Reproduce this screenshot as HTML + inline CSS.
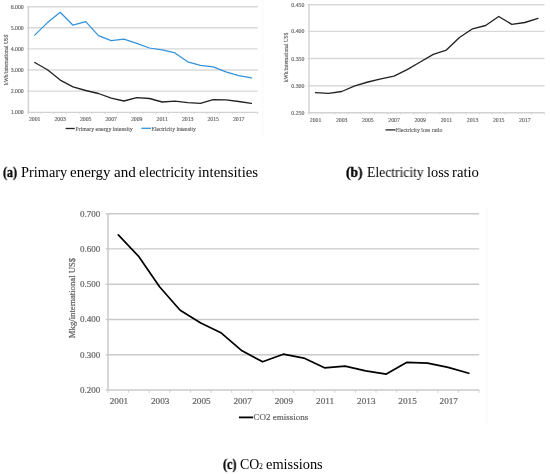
<!DOCTYPE html>
<html><head><meta charset="utf-8"><style>
html,body{margin:0;padding:0;background:#fff;}
body{width:550px;height:474px;overflow:hidden;position:relative;}
svg{position:absolute;left:0;top:0;will-change:transform;}
svg text{font-family:"Liberation Serif",serif;}
.tc{stroke:#666666;stroke-width:0.22px;}
.t{stroke:#646464;stroke-width:0.15px;}
.cap{will-change:transform;position:absolute;font-family:"Liberation Serif",serif;font-size:13.8px;color:#000;white-space:nowrap;line-height:1;}
.cw{position:absolute;font-family:"Liberation Serif",serif;font-size:13.8px;color:#000;white-space:nowrap;line-height:1;transform-origin:0 0;will-change:transform;}
</style></head><body>
<svg width="550" height="474" viewBox="0 0 550 474">
<line x1="486.8" y1="208" x2="486.8" y2="423" stroke="#f6f6f6" stroke-width="1"/>
<line x1="262.7" y1="0" x2="262.7" y2="135" stroke="#f8f8f8" stroke-width="1"/>
<line x1="28.35" y1="6.78" x2="257.80" y2="6.78" stroke="#d8d8d8" stroke-width="1.4"/>
<line x1="28.35" y1="27.82" x2="257.80" y2="27.82" stroke="#d8d8d8" stroke-width="1.4"/>
<line x1="28.35" y1="48.88" x2="257.80" y2="48.88" stroke="#d8d8d8" stroke-width="1.4"/>
<line x1="28.35" y1="69.95" x2="257.80" y2="69.95" stroke="#d8d8d8" stroke-width="1.4"/>
<line x1="28.35" y1="91.14" x2="257.80" y2="91.14" stroke="#d8d8d8" stroke-width="1.4"/>
<line x1="28.35" y1="6.08" x2="28.35" y2="112.33" stroke="#d2d2d2" stroke-width="1.4"/>
<line x1="27.15" y1="112.33" x2="257.80" y2="112.33" stroke="#d2d2d2" stroke-width="1.4"/>
<line x1="27.15" y1="6.78" x2="28.35" y2="6.78" stroke="#d2d2d2" stroke-width="1.4"/>
<line x1="27.15" y1="27.82" x2="28.35" y2="27.82" stroke="#d2d2d2" stroke-width="1.4"/>
<line x1="27.15" y1="48.88" x2="28.35" y2="48.88" stroke="#d2d2d2" stroke-width="1.4"/>
<line x1="27.15" y1="69.95" x2="28.35" y2="69.95" stroke="#d2d2d2" stroke-width="1.4"/>
<line x1="27.15" y1="91.14" x2="28.35" y2="91.14" stroke="#d2d2d2" stroke-width="1.4"/>
<line x1="28.35" y1="112.33" x2="28.35" y2="114.03" stroke="#d2d2d2" stroke-width="0.9"/>
<line x1="41.10" y1="112.33" x2="41.10" y2="114.03" stroke="#d2d2d2" stroke-width="0.9"/>
<line x1="53.84" y1="112.33" x2="53.84" y2="114.03" stroke="#d2d2d2" stroke-width="0.9"/>
<line x1="66.59" y1="112.33" x2="66.59" y2="114.03" stroke="#d2d2d2" stroke-width="0.9"/>
<line x1="79.34" y1="112.33" x2="79.34" y2="114.03" stroke="#d2d2d2" stroke-width="0.9"/>
<line x1="92.09" y1="112.33" x2="92.09" y2="114.03" stroke="#d2d2d2" stroke-width="0.9"/>
<line x1="104.83" y1="112.33" x2="104.83" y2="114.03" stroke="#d2d2d2" stroke-width="0.9"/>
<line x1="117.58" y1="112.33" x2="117.58" y2="114.03" stroke="#d2d2d2" stroke-width="0.9"/>
<line x1="130.33" y1="112.33" x2="130.33" y2="114.03" stroke="#d2d2d2" stroke-width="0.9"/>
<line x1="143.08" y1="112.33" x2="143.08" y2="114.03" stroke="#d2d2d2" stroke-width="0.9"/>
<line x1="155.82" y1="112.33" x2="155.82" y2="114.03" stroke="#d2d2d2" stroke-width="0.9"/>
<line x1="168.57" y1="112.33" x2="168.57" y2="114.03" stroke="#d2d2d2" stroke-width="0.9"/>
<line x1="181.32" y1="112.33" x2="181.32" y2="114.03" stroke="#d2d2d2" stroke-width="0.9"/>
<line x1="194.06" y1="112.33" x2="194.06" y2="114.03" stroke="#d2d2d2" stroke-width="0.9"/>
<line x1="206.81" y1="112.33" x2="206.81" y2="114.03" stroke="#d2d2d2" stroke-width="0.9"/>
<line x1="219.56" y1="112.33" x2="219.56" y2="114.03" stroke="#d2d2d2" stroke-width="0.9"/>
<line x1="232.31" y1="112.33" x2="232.31" y2="114.03" stroke="#d2d2d2" stroke-width="0.9"/>
<line x1="245.05" y1="112.33" x2="245.05" y2="114.03" stroke="#d2d2d2" stroke-width="0.9"/>
<line x1="257.80" y1="112.33" x2="257.80" y2="114.03" stroke="#d2d2d2" stroke-width="0.9"/>
<polyline points="34.72,62.50 47.47,69.70 60.22,80.10 72.97,86.90 85.71,90.50 98.46,93.50 111.21,98.20 123.95,101.00 136.70,97.60 149.45,98.50 162.20,102.00 174.94,101.20 187.69,102.60 200.44,103.40 213.18,99.60 225.93,99.80 238.68,101.50 251.43,103.40" fill="none" stroke="#222222" stroke-width="1.3" stroke-linejoin="round" stroke-linecap="round"/>
<polyline points="34.72,35.10 47.47,22.60 60.22,12.30 72.97,25.20 85.71,21.70 98.46,35.70 111.21,40.60 123.95,39.20 136.70,43.30 149.45,48.00 162.20,49.90 174.94,52.90 187.69,61.80 200.44,65.30 213.18,66.90 225.93,71.90 238.68,75.70 251.43,77.90" fill="none" stroke="#3392dc" stroke-width="1.25" stroke-linejoin="round" stroke-linecap="round"/>
<text x="23.70" y="6.78" text-anchor="end" dominant-baseline="central" font-size="5.8" fill="#646464" class="t">6.000</text>
<text x="23.70" y="27.82" text-anchor="end" dominant-baseline="central" font-size="5.8" fill="#646464" class="t">5.000</text>
<text x="23.70" y="48.88" text-anchor="end" dominant-baseline="central" font-size="5.8" fill="#646464" class="t">4.000</text>
<text x="23.70" y="69.95" text-anchor="end" dominant-baseline="central" font-size="5.8" fill="#646464" class="t">3.000</text>
<text x="23.70" y="91.14" text-anchor="end" dominant-baseline="central" font-size="5.8" fill="#646464" class="t">2.000</text>
<text x="23.70" y="112.33" text-anchor="end" dominant-baseline="central" font-size="5.8" fill="#646464" class="t">1.000</text>
<text x="34.72" y="118.90" text-anchor="middle" dominant-baseline="central" font-size="5.8" fill="#646464" class="t">2001</text>
<text x="60.22" y="118.90" text-anchor="middle" dominant-baseline="central" font-size="5.8" fill="#646464" class="t">2003</text>
<text x="85.71" y="118.90" text-anchor="middle" dominant-baseline="central" font-size="5.8" fill="#646464" class="t">2005</text>
<text x="111.21" y="118.90" text-anchor="middle" dominant-baseline="central" font-size="5.8" fill="#646464" class="t">2007</text>
<text x="136.70" y="118.90" text-anchor="middle" dominant-baseline="central" font-size="5.8" fill="#646464" class="t">2009</text>
<text x="162.20" y="118.90" text-anchor="middle" dominant-baseline="central" font-size="5.8" fill="#646464" class="t">2011</text>
<text x="187.69" y="118.90" text-anchor="middle" dominant-baseline="central" font-size="5.8" fill="#646464" class="t">2013</text>
<text x="213.18" y="118.90" text-anchor="middle" dominant-baseline="central" font-size="5.8" fill="#646464" class="t">2015</text>
<text x="238.68" y="118.90" text-anchor="middle" dominant-baseline="central" font-size="5.8" fill="#646464" class="t">2017</text>
<text transform="translate(6.40,59.70) rotate(-90)" text-anchor="middle" dominant-baseline="central" font-size="5.45" fill="#646464" class="t">kWh/international US$</text>
<line x1="65.6" y1="128.5" x2="74.8" y2="128.5" stroke="#262626" stroke-width="1.3"/>
<text x="75.5" y="128.6" dominant-baseline="central" font-size="5.8" fill="#646464" class="t">Primary energy intensity</text>
<line x1="141.4" y1="128.3" x2="151" y2="128.3" stroke="#3392dc" stroke-width="1.3"/>
<text x="151.5" y="128.6" dominant-baseline="central" font-size="5.65" fill="#646464" class="t">Electricity intensity</text>
<line x1="309.00" y1="4.80" x2="544.50" y2="4.80" stroke="#d8d8d8" stroke-width="1.4"/>
<line x1="309.00" y1="31.40" x2="544.50" y2="31.40" stroke="#d8d8d8" stroke-width="1.4"/>
<line x1="309.00" y1="58.55" x2="544.50" y2="58.55" stroke="#d8d8d8" stroke-width="1.4"/>
<line x1="309.00" y1="85.75" x2="544.50" y2="85.75" stroke="#d8d8d8" stroke-width="1.4"/>
<line x1="309.00" y1="4.10" x2="309.00" y2="112.70" stroke="#d2d2d2" stroke-width="1.4"/>
<line x1="307.80" y1="112.70" x2="544.50" y2="112.70" stroke="#d2d2d2" stroke-width="1.4"/>
<line x1="307.80" y1="4.80" x2="309.00" y2="4.80" stroke="#d2d2d2" stroke-width="1.4"/>
<line x1="307.80" y1="31.40" x2="309.00" y2="31.40" stroke="#d2d2d2" stroke-width="1.4"/>
<line x1="307.80" y1="58.55" x2="309.00" y2="58.55" stroke="#d2d2d2" stroke-width="1.4"/>
<line x1="307.80" y1="85.75" x2="309.00" y2="85.75" stroke="#d2d2d2" stroke-width="1.4"/>
<line x1="309.00" y1="112.70" x2="309.00" y2="114.40" stroke="#d2d2d2" stroke-width="0.9"/>
<line x1="322.08" y1="112.70" x2="322.08" y2="114.40" stroke="#d2d2d2" stroke-width="0.9"/>
<line x1="335.17" y1="112.70" x2="335.17" y2="114.40" stroke="#d2d2d2" stroke-width="0.9"/>
<line x1="348.25" y1="112.70" x2="348.25" y2="114.40" stroke="#d2d2d2" stroke-width="0.9"/>
<line x1="361.33" y1="112.70" x2="361.33" y2="114.40" stroke="#d2d2d2" stroke-width="0.9"/>
<line x1="374.42" y1="112.70" x2="374.42" y2="114.40" stroke="#d2d2d2" stroke-width="0.9"/>
<line x1="387.50" y1="112.70" x2="387.50" y2="114.40" stroke="#d2d2d2" stroke-width="0.9"/>
<line x1="400.58" y1="112.70" x2="400.58" y2="114.40" stroke="#d2d2d2" stroke-width="0.9"/>
<line x1="413.67" y1="112.70" x2="413.67" y2="114.40" stroke="#d2d2d2" stroke-width="0.9"/>
<line x1="426.75" y1="112.70" x2="426.75" y2="114.40" stroke="#d2d2d2" stroke-width="0.9"/>
<line x1="439.83" y1="112.70" x2="439.83" y2="114.40" stroke="#d2d2d2" stroke-width="0.9"/>
<line x1="452.92" y1="112.70" x2="452.92" y2="114.40" stroke="#d2d2d2" stroke-width="0.9"/>
<line x1="466.00" y1="112.70" x2="466.00" y2="114.40" stroke="#d2d2d2" stroke-width="0.9"/>
<line x1="479.08" y1="112.70" x2="479.08" y2="114.40" stroke="#d2d2d2" stroke-width="0.9"/>
<line x1="492.17" y1="112.70" x2="492.17" y2="114.40" stroke="#d2d2d2" stroke-width="0.9"/>
<line x1="505.25" y1="112.70" x2="505.25" y2="114.40" stroke="#d2d2d2" stroke-width="0.9"/>
<line x1="518.33" y1="112.70" x2="518.33" y2="114.40" stroke="#d2d2d2" stroke-width="0.9"/>
<line x1="531.42" y1="112.70" x2="531.42" y2="114.40" stroke="#d2d2d2" stroke-width="0.9"/>
<line x1="544.50" y1="112.70" x2="544.50" y2="114.40" stroke="#d2d2d2" stroke-width="0.9"/>
<polyline points="315.54,92.70 328.62,93.30 341.71,91.50 354.79,85.80 367.88,82.00 380.96,78.90 394.04,76.10 407.12,69.60 420.21,62.00 433.29,54.40 446.38,50.10 459.46,37.50 472.54,28.80 485.62,25.50 498.71,16.50 511.79,24.40 524.88,22.50 537.96,18.40" fill="none" stroke="#222222" stroke-width="1.35" stroke-linejoin="round" stroke-linecap="round"/>
<text x="304.40" y="4.80" text-anchor="end" dominant-baseline="central" font-size="5.8" fill="#646464" class="t">0.450</text>
<text x="304.40" y="31.40" text-anchor="end" dominant-baseline="central" font-size="5.8" fill="#646464" class="t">0.400</text>
<text x="304.40" y="58.55" text-anchor="end" dominant-baseline="central" font-size="5.8" fill="#646464" class="t">0.350</text>
<text x="304.40" y="85.75" text-anchor="end" dominant-baseline="central" font-size="5.8" fill="#646464" class="t">0.300</text>
<text x="304.40" y="112.70" text-anchor="end" dominant-baseline="central" font-size="5.8" fill="#646464" class="t">0.250</text>
<text x="315.54" y="119.80" text-anchor="middle" dominant-baseline="central" font-size="5.8" fill="#646464" class="t">2001</text>
<text x="341.71" y="119.80" text-anchor="middle" dominant-baseline="central" font-size="5.8" fill="#646464" class="t">2003</text>
<text x="367.88" y="119.80" text-anchor="middle" dominant-baseline="central" font-size="5.8" fill="#646464" class="t">2005</text>
<text x="394.04" y="119.80" text-anchor="middle" dominant-baseline="central" font-size="5.8" fill="#646464" class="t">2007</text>
<text x="420.21" y="119.80" text-anchor="middle" dominant-baseline="central" font-size="5.8" fill="#646464" class="t">2009</text>
<text x="446.38" y="119.80" text-anchor="middle" dominant-baseline="central" font-size="5.8" fill="#646464" class="t">2011</text>
<text x="472.54" y="119.80" text-anchor="middle" dominant-baseline="central" font-size="5.8" fill="#646464" class="t">2013</text>
<text x="498.71" y="119.80" text-anchor="middle" dominant-baseline="central" font-size="5.8" fill="#646464" class="t">2015</text>
<text x="524.88" y="119.80" text-anchor="middle" dominant-baseline="central" font-size="5.8" fill="#646464" class="t">2017</text>
<text transform="translate(286.40,57.30) rotate(-90)" text-anchor="middle" dominant-baseline="central" font-size="5.3" fill="#646464" class="t">kWh/international US$</text>
<line x1="385.5" y1="129.9" x2="395.5" y2="129.9" stroke="#262626" stroke-width="1.3"/>
<text x="395.7" y="130.2" dominant-baseline="central" font-size="5.8" fill="#646464" class="t">Electricity loss ratio</text>
<line x1="108.00" y1="213.77" x2="479.10" y2="213.77" stroke="#c9c9c9" stroke-width="1.4"/>
<line x1="108.00" y1="248.85" x2="479.10" y2="248.85" stroke="#c9c9c9" stroke-width="1.4"/>
<line x1="108.00" y1="284.30" x2="479.10" y2="284.30" stroke="#c9c9c9" stroke-width="1.4"/>
<line x1="108.00" y1="319.45" x2="479.10" y2="319.45" stroke="#c9c9c9" stroke-width="1.4"/>
<line x1="108.00" y1="354.82" x2="479.10" y2="354.82" stroke="#c9c9c9" stroke-width="1.4"/>
<line x1="108.00" y1="213.07" x2="108.00" y2="389.95" stroke="#cacaca" stroke-width="1.5"/>
<line x1="105.70" y1="389.95" x2="479.10" y2="389.95" stroke="#cacaca" stroke-width="1.5"/>
<line x1="105.70" y1="213.77" x2="108.00" y2="213.77" stroke="#cacaca" stroke-width="1.4"/>
<line x1="105.70" y1="248.85" x2="108.00" y2="248.85" stroke="#cacaca" stroke-width="1.4"/>
<line x1="105.70" y1="284.30" x2="108.00" y2="284.30" stroke="#cacaca" stroke-width="1.4"/>
<line x1="105.70" y1="319.45" x2="108.00" y2="319.45" stroke="#cacaca" stroke-width="1.4"/>
<line x1="105.70" y1="354.82" x2="108.00" y2="354.82" stroke="#cacaca" stroke-width="1.4"/>
<line x1="108.00" y1="389.95" x2="108.00" y2="392.75" stroke="#cacaca" stroke-width="0.9"/>
<line x1="128.62" y1="389.95" x2="128.62" y2="392.75" stroke="#cacaca" stroke-width="0.9"/>
<line x1="149.23" y1="389.95" x2="149.23" y2="392.75" stroke="#cacaca" stroke-width="0.9"/>
<line x1="169.85" y1="389.95" x2="169.85" y2="392.75" stroke="#cacaca" stroke-width="0.9"/>
<line x1="190.47" y1="389.95" x2="190.47" y2="392.75" stroke="#cacaca" stroke-width="0.9"/>
<line x1="211.08" y1="389.95" x2="211.08" y2="392.75" stroke="#cacaca" stroke-width="0.9"/>
<line x1="231.70" y1="389.95" x2="231.70" y2="392.75" stroke="#cacaca" stroke-width="0.9"/>
<line x1="252.32" y1="389.95" x2="252.32" y2="392.75" stroke="#cacaca" stroke-width="0.9"/>
<line x1="272.93" y1="389.95" x2="272.93" y2="392.75" stroke="#cacaca" stroke-width="0.9"/>
<line x1="293.55" y1="389.95" x2="293.55" y2="392.75" stroke="#cacaca" stroke-width="0.9"/>
<line x1="314.17" y1="389.95" x2="314.17" y2="392.75" stroke="#cacaca" stroke-width="0.9"/>
<line x1="334.78" y1="389.95" x2="334.78" y2="392.75" stroke="#cacaca" stroke-width="0.9"/>
<line x1="355.40" y1="389.95" x2="355.40" y2="392.75" stroke="#cacaca" stroke-width="0.9"/>
<line x1="376.02" y1="389.95" x2="376.02" y2="392.75" stroke="#cacaca" stroke-width="0.9"/>
<line x1="396.63" y1="389.95" x2="396.63" y2="392.75" stroke="#cacaca" stroke-width="0.9"/>
<line x1="417.25" y1="389.95" x2="417.25" y2="392.75" stroke="#cacaca" stroke-width="0.9"/>
<line x1="437.87" y1="389.95" x2="437.87" y2="392.75" stroke="#cacaca" stroke-width="0.9"/>
<line x1="458.48" y1="389.95" x2="458.48" y2="392.75" stroke="#cacaca" stroke-width="0.9"/>
<line x1="479.10" y1="389.95" x2="479.10" y2="392.75" stroke="#cacaca" stroke-width="0.9"/>
<polyline points="118.31,234.80 138.93,256.70 159.54,286.70 180.16,310.30 200.78,323.00 221.39,333.10 242.01,350.80 262.62,361.80 283.24,354.20 303.86,358.10 324.48,367.80 345.09,366.10 365.71,370.80 386.32,374.10 406.94,362.30 427.56,363.20 448.18,367.40 468.79,373.30" fill="none" stroke="#000000" stroke-width="1.7" stroke-linejoin="round" stroke-linecap="round"/>
<text x="100.20" y="213.77" text-anchor="end" dominant-baseline="central" font-size="9.0" fill="#666666" class="tc">0.700</text>
<text x="100.20" y="248.85" text-anchor="end" dominant-baseline="central" font-size="9.0" fill="#666666" class="tc">0.600</text>
<text x="100.20" y="284.30" text-anchor="end" dominant-baseline="central" font-size="9.0" fill="#666666" class="tc">0.500</text>
<text x="100.20" y="319.45" text-anchor="end" dominant-baseline="central" font-size="9.0" fill="#666666" class="tc">0.400</text>
<text x="100.20" y="354.82" text-anchor="end" dominant-baseline="central" font-size="9.0" fill="#666666" class="tc">0.300</text>
<text x="100.20" y="389.95" text-anchor="end" dominant-baseline="central" font-size="9.0" fill="#666666" class="tc">0.200</text>
<text x="118.91" y="401.45" text-anchor="middle" dominant-baseline="central" font-size="9.2" fill="#666666" class="tc">2001</text>
<text x="160.14" y="401.45" text-anchor="middle" dominant-baseline="central" font-size="9.2" fill="#666666" class="tc">2003</text>
<text x="201.38" y="401.45" text-anchor="middle" dominant-baseline="central" font-size="9.2" fill="#666666" class="tc">2005</text>
<text x="242.61" y="401.45" text-anchor="middle" dominant-baseline="central" font-size="9.2" fill="#666666" class="tc">2007</text>
<text x="283.84" y="401.45" text-anchor="middle" dominant-baseline="central" font-size="9.2" fill="#666666" class="tc">2009</text>
<text x="325.08" y="401.45" text-anchor="middle" dominant-baseline="central" font-size="9.2" fill="#666666" class="tc">2011</text>
<text x="366.31" y="401.45" text-anchor="middle" dominant-baseline="central" font-size="9.2" fill="#666666" class="tc">2013</text>
<text x="407.54" y="401.45" text-anchor="middle" dominant-baseline="central" font-size="9.2" fill="#666666" class="tc">2015</text>
<text x="448.78" y="401.45" text-anchor="middle" dominant-baseline="central" font-size="9.2" fill="#666666" class="tc">2017</text>
<text transform="translate(71.60,298.00) rotate(-90)" text-anchor="middle" dominant-baseline="central" font-size="8.7" fill="#666666" class="tc">Mkg/international US$</text>
<line x1="239" y1="417.4" x2="253.1" y2="417.4" stroke="#000" stroke-width="1.8"/>
<text x="253.5" y="417.4" dominant-baseline="central" font-size="9.0" fill="#666666" class="tc">CO2 emissions</text>
</svg>
<span class="cw" style="left:2.63px;top:166.35px;transform:scaleX(0.873);font-weight:bold;-webkit-text-stroke:0.35px #000;">(a)</span>
<span class="cw" style="left:21.06px;top:166.35px;transform:scaleX(1.040);">Primary</span>
<span class="cw" style="left:70.41px;top:166.35px;transform:scaleX(1.086);">energy</span>
<span class="cw" style="left:113.71px;top:166.35px;transform:scaleX(1.095);">and</span>
<span class="cw" style="left:138.68px;top:166.35px;transform:scaleX(1.017);">electricity</span>
<span class="cw" style="left:197.83px;top:166.35px;transform:scaleX(1.074);">intensities</span>
<span class="cw" style="left:346.22px;top:166.35px;transform:scaleX(0.980);font-weight:bold;-webkit-text-stroke:0.35px #000;">(b)</span>
<span class="cw" style="left:366.61px;top:166.35px;transform:scaleX(0.987);">Electricity</span>
<span class="cw" style="left:426.76px;top:166.35px;transform:scaleX(1.044);">loss</span>
<span class="cw" style="left:451.53px;top:166.35px;transform:scaleX(1.065);">ratio</span>
<span class="cw" style="left:222.82px;top:457.95px;transform:scaleX(0.879);font-weight:bold;-webkit-text-stroke:0.35px #000;">(c)</span>
<span class="cw" style="left:240.19px;top:457.95px;transform:scaleX(1.006);">CO</span>
<span class="cw" style="left:266.46px;top:457.95px;transform:scaleX(1.042);">emissions</span>
<span class="cw" style="left:258.9px;top:463.2px;font-size:7.9px;transform:scaleX(1.0);">2</span>
</body></html>
